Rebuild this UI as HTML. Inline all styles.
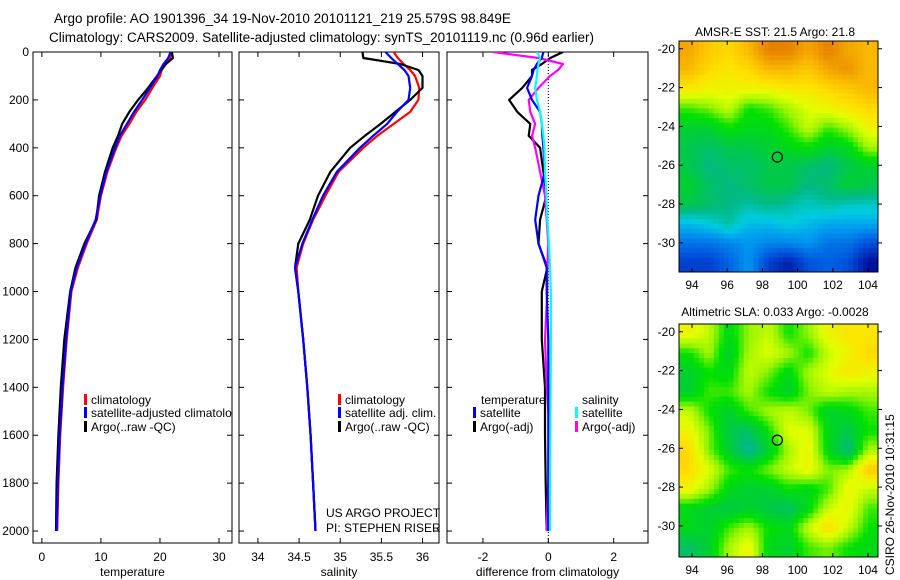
<!DOCTYPE html>
<html><head><meta charset="utf-8"><style>
body{margin:0;background:#fff;}
svg{display:block;font-family:"Liberation Sans",sans-serif;}
</style></head><body>
<svg id="fig" width="900" height="580" viewBox="0 0 900 580">
<text x="54" y="23" font-size="13.5">Argo profile: AO 1901396_34 19-Nov-2010 20101121_219 25.579S 98.849E</text>
<text x="49" y="42" font-size="13.5">Climatology: CARS2009. Satellite-adjusted climatology: synTS_20101119.nc (0.96d earlier)</text>
<text x="775" y="36" font-size="12" text-anchor="middle">AMSR-E SST: 21.5 Argo: 21.8</text>
<text x="775" y="316" font-size="12" text-anchor="middle">Altimetric SLA: 0.033 Argo: -0.0028</text>
<text x="0" y="0" font-size="12" transform="translate(894,575) rotate(-90)">CSIRO 26-Nov-2010 10:31:15</text>
</svg>
<script>
const depth=[0,25,50,75,100,150,200,250,300,350,400,500,600,700,800,900,1000,1200,1400,1600,1800,2000];
const tempClim=[21.9,21.7,21.0,20.3,20.0,18.7,17.5,16.0,14.8,13.5,12.6,11.1,10.0,9.3,7.6,6.1,5.0,4.2,3.6,3.1,2.8,2.6];
const tempSat=[21.8,21.4,20.6,20.0,19.6,18.3,17.0,15.6,14.4,13.2,12.4,10.9,9.9,9.1,7.4,5.9,4.9,4.1,3.5,3.0,2.7,2.5];
const tempArgo=[22.0,22.2,21.0,20.2,19.5,18.0,16.3,14.8,13.6,12.9,12.0,10.7,9.7,9.2,7.2,5.7,4.8,3.8,3.2,2.8,2.5,2.4];
const salClim=[35.65,35.70,35.77,35.85,35.91,35.96,35.95,35.85,35.65,35.45,35.28,34.98,34.82,34.67,34.55,34.47,34.49,34.55,34.60,34.64,34.67,34.70];
const salSat=[35.55,35.62,35.70,35.78,35.83,35.85,35.83,35.69,35.57,35.40,35.24,34.96,34.79,34.66,34.54,34.45,34.49,34.55,34.60,34.64,34.67,34.70];
const salArgo=[35.27,35.28,35.73,35.95,36.00,36.00,35.85,35.67,35.49,35.30,35.12,34.88,34.73,34.63,34.49,34.45,34.49,34.55,34.60,34.64,34.67,34.70];
const dTempSat=[-0.15,-0.2,-0.35,-0.45,-0.5,-0.65,-0.5,-0.25,-0.2,-0.18,-0.15,-0.1,-0.3,-0.4,-0.3,-0.05,-0.05,0,0,0,0,0];
const dTempArgo=[0.45,0.06,-0.2,-0.5,-0.5,-0.8,-1.2,-0.95,-0.55,-0.6,-0.25,-0.15,-0.06,-0.25,-0.3,-0.03,-0.2,-0.2,-0.1,-0.1,-0.08,-0.05];
const dSalSat=[-0.35,-0.25,-0.3,-0.33,-0.35,-0.4,-0.35,-0.25,-0.2,-0.15,-0.12,-0.1,-0.06,-0.03,0.02,0.05,0.08,0.08,0.07,0.06,0.05,0.05];
const dSalArgo=[-1.7,-0.3,0.45,0.3,0.05,-0.3,-0.6,-0.55,-0.4,-0.5,-0.4,-0.25,-0.1,-0.05,0,-0.03,-0.03,-0.1,-0.05,0.05,0.0,-0.05];
const depthTicks=[0,200,400,600,800,1000,1200,1400,1600,1800,2000];
const tempTicks=[0,10,20,30];
const salTicks=[34,34.5,35,35.5,36];
const diffTicks=[-2,0,2];
const sstLonTicks=[94,96,98,100,102,104];
const latTicks=[-20,-22,-24,-26,-28,-30];
const sstGrid=[
[.72,.68,.66,.70,.76,.76,.72,.76,.72,.70],
[.70,.66,.64,.66,.70,.70,.68,.72,.74,.70],
[.64,.62,.62,.62,.62,.64,.64,.66,.68,.70],
[.52,.54,.58,.50,.52,.56,.60,.62,.64,.66],
[.46,.46,.50,.48,.48,.52,.58,.52,.56,.62],
[.44,.42,.44,.44,.46,.48,.50,.46,.48,.56],
[.44,.40,.42,.42,.44,.44,.42,.40,.44,.46],
[.46,.42,.40,.42,.44,.44,.40,.42,.46,.44],
[.44,.42,.40,.38,.40,.38,.36,.38,.36,.36],
[.32,.34,.38,.32,.32,.34,.32,.30,.30,.30],
[.24,.24,.26,.28,.26,.26,.28,.24,.24,.20],
[.18,.18,.22,.28,.18,.14,.20,.22,.20,.12]];
const slaGrid=[
[.62,.58,.48,.55,.58,.50,.55,.62,.64,.64],
[.50,.56,.46,.56,.60,.56,.50,.58,.62,.66],
[.46,.50,.48,.58,.54,.48,.56,.60,.64,.62],
[.46,.52,.52,.56,.50,.46,.54,.58,.56,.56],
[.58,.50,.46,.52,.56,.58,.54,.46,.48,.52],
[.62,.54,.44,.42,.50,.60,.60,.48,.44,.50],
[.66,.54,.46,.38,.46,.56,.62,.48,.40,.56],
[.66,.60,.52,.50,.54,.58,.62,.54,.56,.68],
[.62,.56,.48,.46,.46,.50,.48,.52,.62,.58],
[.48,.46,.44,.46,.44,.42,.48,.58,.62,.52],
[.48,.46,.52,.56,.50,.48,.58,.66,.58,.50],
[.42,.46,.56,.62,.48,.46,.52,.54,.50,.48]];
const floatLon=98.85, floatLat=-25.58;

const NS='http://www.w3.org/2000/svg';
const svg=document.getElementById('fig');
function mk(tag,attrs,parent){const e=document.createElementNS(NS,tag);for(const k in attrs)e.setAttribute(k,attrs[k]);(parent||svg).appendChild(e);return e;}
const Y0=52,Y1=543,DMAX=2050;
const yD=d=>Y0+d/DMAX*(Y1-Y0);
function lin(d0,d1,r0,r1){return v=>r0+(v-d0)/(d1-d0)*(r1-r0);}

function panel(name,x0,x1,xmin,xmax,ticks,xlabel,showY){
  const g=mk('g',{});
  
  
  const xs=lin(xmin,xmax,x0,x1);
  mk('rect',{x:x0,y:Y0,width:x1-x0,height:Y1-Y0,fill:'none',stroke:'#000','stroke-width':1},g);
  ticks.forEach(t=>{const x=xs(t);
    mk('line',{x1:x,x2:x,y1:Y1,y2:Y1-5,stroke:'#000'},g);
    mk('line',{x1:x,x2:x,y1:Y0,y2:Y0+5,stroke:'#000'},g);
    const tx=mk('text',{x:x,y:Y1+18,'font-size':12,'text-anchor':'middle'},g);tx.textContent=t;
    
    });
  depthTicks.forEach(d=>{const y=yD(d);
    mk('line',{x1:x0,x2:x0+5,y1:y,y2:y,stroke:'#000'},g);
    mk('line',{x1:x1,x2:x1-5,y1:y,y2:y,stroke:'#000'},g);
    if(showY){const tx=mk('text',{x:x0-4,y:y+4,'font-size':12,'text-anchor':'end'},g);tx.textContent=d;
      
      }});
  const xl=mk('text',{x:(x0+x1)/2,y:576,'font-size':12,'text-anchor':'middle'},g);xl.textContent=xlabel;
  
  
  const cid='clip'+name;const cp=mk('clipPath',{id:cid},g);mk('rect',{x:x0,y:Y0,width:x1-x0,height:Y1-Y0},cp);
  const pg=mk('g',{'clip-path':'url(#'+cid+')'},g);
  return {xs,g,pg};
}
function series(p,vals,color,name){
  const pts=vals.map((v,i)=>p.xs(v).toFixed(1)+','+yD(depth[i]).toFixed(1)).join(' ');
  const l=mk('polyline',{points:pts,fill:'none',stroke:color,'stroke-width':2.2,'stroke-linejoin':'round'},p.pg);
  
  
}
function legend(g,x,y,color,label){
  mk('rect',{x:x,y:y-10,width:3,height:11,fill:color},g);
  const t=mk('text',{x:x+7,y:y,'font-size':12},g);t.textContent=label;
  
  
}
const p1=panel('temperature-panel',33,232,-1.5,32.2,tempTicks,'temperature',true);
series(p1,tempClim,'#f00','temp-climatology-line');
series(p1,tempArgo,'#000','temp-argo-line');
series(p1,tempSat,'#00f','temp-satellite-line');
legend(p1.pg,84,404,'#f00','climatology');
legend(p1.pg,84,417,'#00f','satellite-adjusted climatology');
legend(p1.pg,84,431,'#000','Argo(..raw -QC)');

const p2=panel('salinity-panel',239,439,33.77,36.2,salTicks,'salinity',false);
series(p2,salClim,'#f00','sal-climatology-line');
series(p2,salArgo,'#000','sal-argo-line');
series(p2,salSat,'#00f','sal-satellite-line');
legend(p2.pg,338,404,'#f00','climatology');
legend(p2.pg,338,417,'#00f','satellite adj. clim.');
legend(p2.pg,338,431,'#000','Argo(..raw -QC)');
const t1=mk('text',{x:326,y:517,'font-size':12},p2.g);t1.textContent='US ARGO PROJECT';


const t2=mk('text',{x:326,y:532,'font-size':12},p2.g);t2.textContent='PI: STEPHEN RISER';



const p3=panel('difference-panel',447,648,-3.1,3.05,diffTicks,'difference from climatology',false);
mk('line',{x1:p3.xs(0),x2:p3.xs(0),y1:Y0,y2:Y1,stroke:'#000','stroke-dasharray':'1,2'},p3.pg);
series(p3,dTempArgo,'#000','diff-temp-argo-line');
series(p3,dSalArgo,'#f0f','diff-sal-argo-line');
series(p3,dTempSat,'#00f','diff-temp-satellite-line');
series(p3,dSalSat,'#0ff','diff-sal-satellite-line');
const lt=mk('text',{x:481,y:404,'font-size':12},p3.g);lt.textContent='temperature';


const ls=mk('text',{x:582,y:404,'font-size':12},p3.g);ls.textContent='salinity';


legend(p3.g,473,417,'#00f','satellite');
legend(p3.g,473,431,'#000','Argo(-adj)');
legend(p3.g,575,417,'#0ff','satellite');
legend(p3.g,575,431,'#f0f','Argo(-adj)');

const stops=[[0.10,[0,0,140]],[0.20,[0,80,220]],[0.28,[0,150,240]],[0.34,[0,205,225]],[0.40,[0,185,130]],[0.45,[0,205,60]],[0.50,[0,225,0]],[0.55,[150,245,0]],[0.60,[225,255,0]],[0.65,[255,225,0]],[0.70,[250,185,0]],[0.76,[230,130,0]]];
function cmap(v){
  if(v<=stops[0][0])return 'rgb('+stops[0][1].join(',')+')';
  for(let i=1;i<stops.length;i++){if(v<=stops[i][0]){const a=stops[i-1],b=stops[i];const f=(v-a[0])/(b[0]-a[0]);
    return 'rgb('+a[1].map((c,k)=>Math.round(c+(b[1][k]-c)*f)).join(',')+')';}}
  return 'rgb('+stops[stops.length-1][1].join(',')+')';
}
function sample(grid,fy,fx){
  const R=grid.length,C=grid[0].length;
  const y=Math.max(0,Math.min(R-1,fy)),x=Math.max(0,Math.min(C-1,fx));
  const i=Math.min(R-2,Math.floor(y)),j=Math.min(C-2,Math.floor(x));
  const dy=y-i,dx=x-j;
  return grid[i][j]*(1-dy)*(1-dx)+grid[i+1][j]*dy*(1-dx)+grid[i][j+1]*(1-dy)*dx+grid[i+1][j+1]*dy*dx;
}
function map(name,grid,x0,x1,y0,y1,lonMin,lonMax,latTop,latBot){
  const g=mk('g',{});
  
  
  const rows=grid.length,cols=grid[0].length;
  const NR=rows*4,NC=cols*4;
  const cw=(x1-x0)/NC,ch=(y1-y0)/NR;
  for(let i=0;i<NR;i++)for(let j=0;j<NC;j++){
    const v=sample(grid,(i+0.5)/4-0.5,(j+0.5)/4-0.5);
    const c=mk('rect',{x:(x0+j*cw).toFixed(2),y:(y0+i*ch).toFixed(2),width:(cw+0.5).toFixed(2),height:(ch+0.5).toFixed(2),fill:cmap(v)},g);
    
    
  }
  const xs=lin(lonMin,lonMax,x0,x1), ys=lin(latTop,latBot,y0,y1);
  mk('rect',{x:x0,y:y0,width:x1-x0,height:y1-y0,fill:'none',stroke:'#000'},g);
  sstLonTicks.forEach(t=>{const x=xs(t);
    mk('line',{x1:x,x2:x,y1:y1,y2:y1-4,stroke:'#000'},g);
    mk('line',{x1:x,x2:x,y1:y0,y2:y0+4,stroke:'#000'},g);
    const tx=mk('text',{x:x,y:y1+17,'font-size':12,'text-anchor':'middle'},g);tx.textContent=t;
    
    });
  latTicks.forEach(t=>{const y=ys(t);
    mk('line',{x1:x0,x2:x0+4,y1:y,y2:y,stroke:'#000'},g);
    mk('line',{x1:x1,x2:x1+4,y1:y,y2:y,stroke:'#000'},g);
    const tx=mk('text',{x:x0-4,y:y+4,'font-size':12,'text-anchor':'end'},g);tx.textContent=t;
    
    });
  const c=mk('circle',{cx:xs(floatLon),cy:ys(floatLat),r:5,fill:'none',stroke:'#000','stroke-width':1.2},g);
  
  
}
map('sst-map',sstGrid,679,878,41,272,93.26,104.57,-19.6,-31.5);
map('sla-map',slaGrid,679,878,324,557,93.26,104.57,-19.6,-31.6);
</script>
</body></html>
